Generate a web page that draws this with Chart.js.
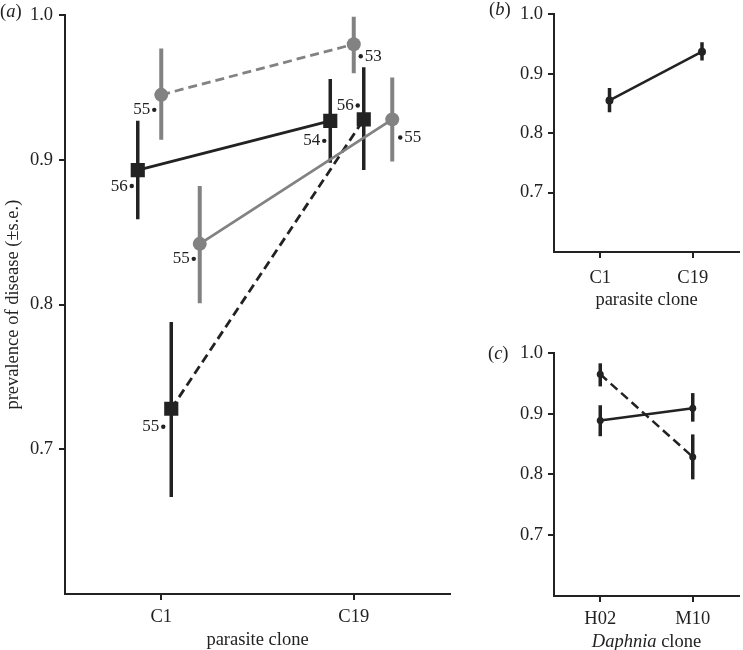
<!DOCTYPE html>
<html>
<head>
<meta charset="utf-8">
<script src="https://cdn.jsdelivr.net/npm/chart.js@4.4.1/dist/chart.umd.min.js"></script>
<style>
  html, body { margin: 0; padding: 0; background: #fff; }
  #wrap { position: relative; width: 743px; height: 650px; }
  .panel { position: absolute; }
</style>
</head>
<body>
<div id="wrap">
  <div class="panel" style="left:0;top:0;width:460px;height:650px"><canvas id="chartA"></canvas></div>
  <div class="panel" style="left:460px;top:0;width:283px;height:320px"><canvas id="chartB"></canvas></div>
  <div class="panel" style="left:460px;top:320px;width:283px;height:330px"><canvas id="chartC"></canvas></div>
</div>
<script>
// categories and ticks
const parasiteClones = ['C1', 'C19'];
const daphniaClones = ['H02', 'M10'];
const yTicks = [0.7, 0.8, 0.9, 1.0];

// (a) prevalence per treatment, at C1 and C19
const squareSolidMean = [0.893, 0.927];
const squareSolidLo = [0.859, 0.898];
const squareSolidHi = [0.927, 0.956];
const squareSolidN = [56, 54];

const circleDashedMean = [0.945, 0.980];
const circleDashedLo = [0.914, 0.960];
const circleDashedHi = [0.977, 0.999];
const circleDashedN = [55, 53];

const circleSolidMean = [0.842, 0.928];
const circleSolidLo = [0.801, 0.899];
const circleSolidHi = [0.882, 0.957];
const circleSolidN = [55, 55];

const squareDashedMean = [0.728, 0.928];
const squareDashedLo = [0.667, 0.893];
const squareDashedHi = [0.788, 0.964];
const squareDashedN = [55, 56];

// (b) parasite clone main effect
const parasiteMean = [0.855, 0.937];
const parasiteLo = [0.835, 0.922];
const parasiteHi = [0.876, 0.953];

// (c) Daphnia clone x treatment
const daphSolidMean = [0.889, 0.909];
const daphSolidLo = [0.863, 0.887];
const daphSolidHi = [0.914, 0.934];
const daphDashedMean = [0.965, 0.829];
const daphDashedLo = [0.945, 0.792];
const daphDashedHi = [0.983, 0.866];

const BLACK = '#222222';
const GREY = '#828282';
const SERIF = '"Liberation Serif", "Times New Roman", serif';

function meanSet(mean, dodge, color, shape, radius, dashed, width) {
  return {
    data: mean.map((v, i) => ({ x: i + dodge, y: v })),
    borderColor: color,
    backgroundColor: color,
    pointBackgroundColor: color,
    borderWidth: width || 2.8,
    borderDash: dashed ? [9, 5] : [],
    pointStyle: shape,
    pointRadius: radius,
    pointBorderWidth: 0,
    showLine: true,
    order: 0
  };
}

function errorSets(lo, hi, dodge, color, width) {
  return lo.map((l, i) => ({
    data: [{ x: i + dodge, y: l }, { x: i + dodge, y: hi[i] }],
    borderColor: color,
    borderWidth: width,
    borderCapStyle: 'butt',
    pointRadius: 0,
    showLine: true,
    order: 1
  }));
}

function axes(o) {
  return {
    x: {
      type: 'linear', min: -0.5, max: 1.5,
      afterBuildTicks: s => { s.ticks = o.cats.map((c, i) => ({ value: i })); },
      afterFit: s => { s.height = o.xHeight; },
      ticks: {
        callback: v => o.cats[v], color: BLACK, padding: o.xPad,
        autoSkip: false, maxRotation: 0,
        font: { family: SERIF, size: 18.5, lineHeight: 1 }
      },
      grid: { drawOnChartArea: false, drawTicks: true, tickLength: 6, color: BLACK, lineWidth: 2 },
      border: { display: true, color: BLACK, width: 2 },
      title: o.xTitle ? {
        display: true, text: o.xTitle, color: BLACK,
        font: { family: SERIF, size: 18.5, lineHeight: 1 },
        padding: { top: 0, bottom: o.xTitlePad }
      } : { display: false }
    },
    y: {
      type: 'linear', min: 0.6, max: 1.0,
      afterBuildTicks: s => { s.ticks = yTicks.map(v => ({ value: v })); },
      afterFit: s => { s.width = o.yWidth; },
      ticks: {
        callback: v => v.toFixed(1), color: BLACK, padding: o.yPad,
        font: { family: SERIF, size: 18.5, lineHeight: 1 }
      },
      grid: { drawOnChartArea: false, drawTicks: true, tickLength: 6, color: BLACK, lineWidth: 2 },
      border: { display: true, color: BLACK, width: 2 },
      title: o.yTitle ? {
        display: true, text: o.yTitle, color: BLACK,
        font: { family: SERIF, size: 18.5, lineHeight: 1 },
        padding: { top: 4, bottom: 0 }
      } : { display: false }
    }
  };
}

// "(a)" etc, letter in italics
const panelLabel = {
  id: 'panelLabel',
  afterDraw(chart, args, o) {
    if (!o || !o.letter) return;
    const ctx = chart.ctx;
    ctx.save();
    ctx.fillStyle = BLACK;
    ctx.textBaseline = 'middle';
    ctx.textAlign = 'left';
    let x = o.x;
    [['(', 'normal'], [o.letter, 'italic'], [')', 'normal']].forEach(([t, st]) => {
      ctx.font = st + ' 18.5px ' + SERIF;
      ctx.fillText(t, x, o.y);
      x += ctx.measureText(t).width;
    });
    ctx.restore();
  }
};

// little dot + sample size next to each mean in (a)
const sampleSizes = {
  id: 'sampleSizes',
  afterDatasetsDraw(chart, args, o) {
    if (!o || !o.sets) return;
    const ctx = chart.ctx;
    ctx.save();
    ctx.fillStyle = BLACK;
    ctx.font = '17px ' + SERIF;
    ctx.textBaseline = 'middle';
    o.sets.forEach(set => {
      const pts = chart.getDatasetMeta(set.dataset).data;
      set.n.forEach((n, i) => {
        const [dx, dy, side] = set.place[i];
        const px = pts[i].x + dx, py = pts[i].y + dy;
        ctx.beginPath();
        ctx.arc(px, py, 2.2, 0, Math.PI * 2);
        ctx.fill();
        if (side === 'left') {
          ctx.textAlign = 'right';
          ctx.fillText(String(n), px - 4, py);
        } else {
          ctx.textAlign = 'left';
          ctx.fillText(String(n), px + 4, py);
        }
      });
    });
    ctx.restore();
  }
};

// x title of (c) with italic genus name
const daphniaTitle = {
  id: 'daphniaTitle',
  afterDraw(chart, args, o) {
    if (!o || !o.text) return;
    const ctx = chart.ctx, a = chart.chartArea;
    ctx.save();
    ctx.fillStyle = BLACK;
    ctx.textBaseline = 'middle';
    ctx.textAlign = 'left';
    ctx.font = 'italic 18.5px ' + SERIF;
    const w1 = ctx.measureText(o.italic).width;
    ctx.font = '18.5px ' + SERIF;
    const w2 = ctx.measureText(o.text).width;
    let x = (a.left + a.right) / 2 - (w1 + w2) / 2;
    const y = chart.height - o.bottom;
    ctx.font = 'italic 18.5px ' + SERIF;
    ctx.fillText(o.italic, x, y);
    ctx.font = '18.5px ' + SERIF;
    ctx.fillText(o.text, x + w1, y);
    ctx.restore();
  }
};

const common = {
  responsive: true,
  maintainAspectRatio: false,
  animation: false,
  events: []
};

// (a)
const dodgeSquareSolid = -0.122, dodgeCircleDashed = 0, dodgeCircleSolid = 0.2, dodgeSquareDashed = 0.052;
new Chart(document.getElementById('chartA'), {
  type: 'scatter',
  data: {
    datasets: [
      meanSet(squareSolidMean, dodgeSquareSolid, BLACK, 'rect', 10, false),
      meanSet(circleDashedMean, dodgeCircleDashed, GREY, 'circle', 7, true),
      meanSet(circleSolidMean, dodgeCircleSolid, GREY, 'circle', 7, false),
      meanSet(squareDashedMean, dodgeSquareDashed, BLACK, 'rect', 10, true),
      ...errorSets(squareSolidLo, squareSolidHi, dodgeSquareSolid, BLACK, 3.5),
      ...errorSets(circleDashedLo, circleDashedHi, dodgeCircleDashed, GREY, 4),
      ...errorSets(circleSolidLo, circleSolidHi, dodgeCircleSolid, GREY, 4),
      ...errorSets(squareDashedLo, squareDashedHi, dodgeSquareDashed, BLACK, 3.5)
    ]
  },
  options: {
    ...common,
    layout: { padding: { top: 11, right: 5, left: 0, bottom: 0 } },
    scales: axes({
      cats: parasiteClones, xHeight: 56, xPad: 8, yWidth: 65, yPad: 6,
      xTitle: 'parasite clone', xTitlePad: 1,
      yTitle: 'prevalence of disease (±s.e.)'
    }),
    plugins: {
      legend: { display: false },
      tooltip: { enabled: false },
      panelLabel: { letter: 'a', x: 0, y: 12 },
      sampleSizes: {
        sets: [
          { dataset: 0, n: squareSolidN, place: [[-6, 16, 'left'], [-6, 20, 'left']] },
          { dataset: 1, n: circleDashedN, place: [[-7, 15, 'left'], [7, 12, 'right']] },
          { dataset: 2, n: circleSolidN, place: [[-6, 15, 'left'], [8, 18, 'right']] },
          { dataset: 3, n: squareDashedN, place: [[-8, 18, 'left'], [-6, -14, 'left']] }
        ]
      }
    }
  },
  plugins: [panelLabel, sampleSizes]
});

// (b)
const dodgeB = 0.1;
new Chart(document.getElementById('chartB'), {
  type: 'scatter',
  data: {
    datasets: [
      meanSet(parasiteMean, dodgeB, BLACK, 'circle', 4, false, 2.5),
      ...errorSets(parasiteLo, parasiteHi, dodgeB, BLACK, 3.5)
    ]
  },
  options: {
    ...common,
    layout: { padding: { top: 9, right: 0, left: 0, bottom: 0 } },
    scales: axes({
      cats: parasiteClones, xHeight: 68, xPad: 11, yWidth: 94, yPad: 5,
      xTitle: 'parasite clone', xTitlePad: 11
    }),
    plugins: {
      legend: { display: false },
      tooltip: { enabled: false },
      panelLabel: { letter: 'b', x: 29, y: 10 }
    }
  },
  plugins: [panelLabel]
});

// (c)
new Chart(document.getElementById('chartC'), {
  type: 'scatter',
  data: {
    datasets: [
      meanSet(daphSolidMean, 0, BLACK, 'circle', 3.5, false, 2.5),
      meanSet(daphDashedMean, 0, BLACK, 'circle', 3.5, true, 2.5),
      ...errorSets(daphSolidLo, daphSolidHi, 0, BLACK, 3.5),
      ...errorSets(daphDashedLo, daphDashedHi, 0, BLACK, 3.5)
    ]
  },
  options: {
    ...common,
    layout: { padding: { top: 33, right: 0, left: 0, bottom: 0 } },
    scales: axes({
      cats: daphniaClones, xHeight: 54, xPad: 8, yWidth: 94, yPad: 5
    }),
    plugins: {
      legend: { display: false },
      tooltip: { enabled: false },
      panelLabel: { letter: 'c', x: 28, y: 34 },
      daphniaTitle: { italic: 'Daphnia', text: ' clone', bottom: 8 }
    }
  },
  plugins: [panelLabel, daphniaTitle]
});
</script>
</body>
</html>
